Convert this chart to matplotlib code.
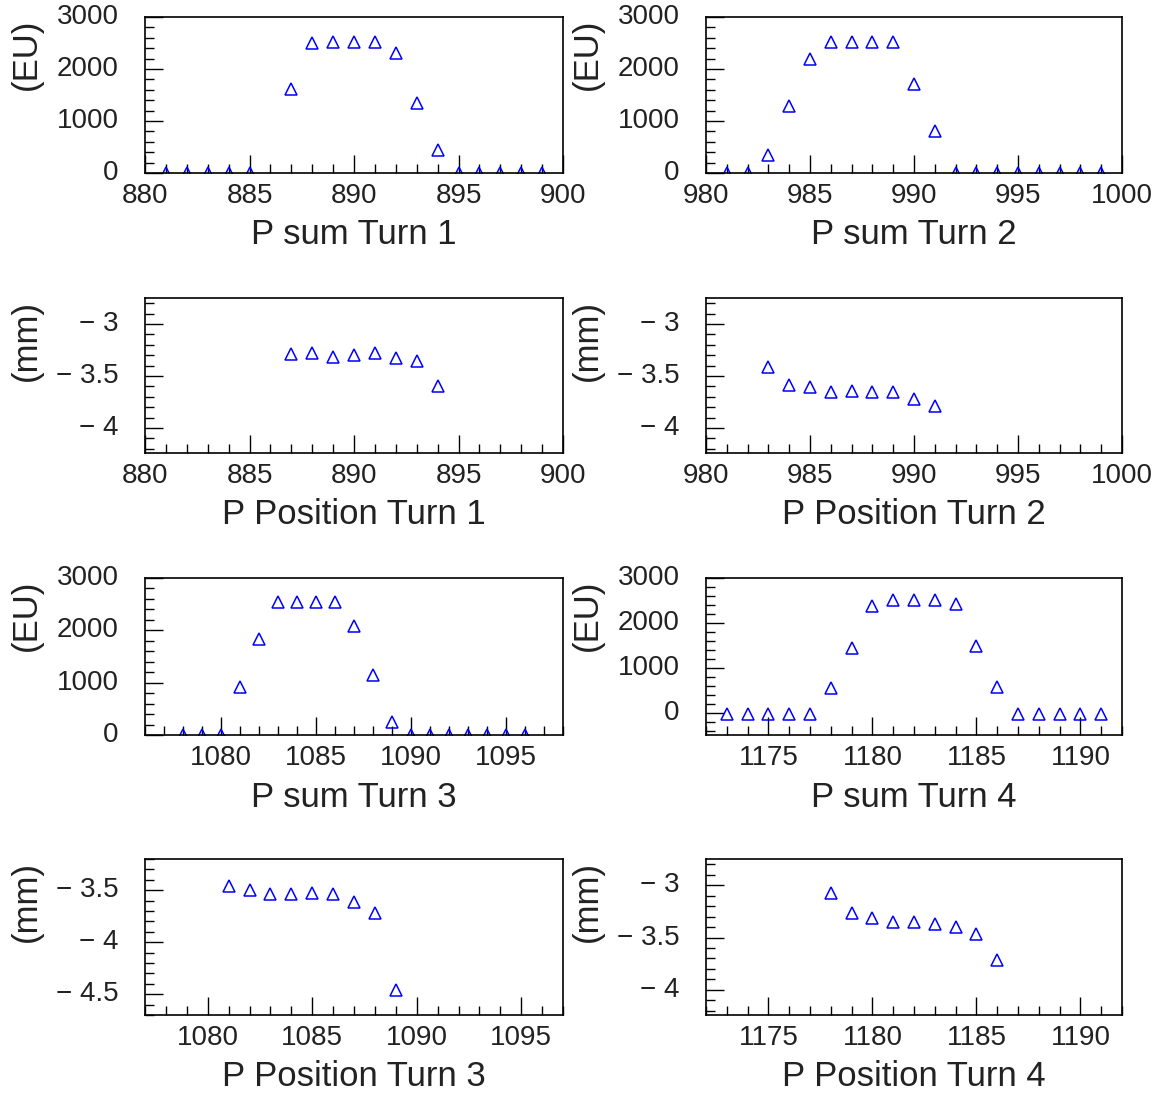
import matplotlib
matplotlib.use("Agg")
import matplotlib.pyplot as plt
from matplotlib.ticker import MultipleLocator, FuncFormatter

plt.rcParams["font.family"] = ["Liberation Sans", "DejaVu Sans"]

# ---- data ----
sum1_x = [881, 882, 883, 884, 885, 887, 888, 889, 890, 891, 892, 893, 894,
          895, 896, 897, 898, 899]
sum1_y = [0, 0, 0, 0, 0, 1625, 2505, 2525, 2525, 2525, 2300, 1355, 445,
          0, 0, 0, 0, 0]

sum2_x = [981, 982, 983, 984, 985, 986, 987, 988, 989, 990, 991, 992, 993,
          994, 995, 996, 997, 998, 999]
sum2_y = [0, 0, 350, 1280, 2185, 2525, 2525, 2525, 2510, 1710, 800, 0, 0,
          0, 0, 0, 0, 0, 0]

pos1_x = [887, 888, 889, 890, 891, 892, 893, 894]
pos1_y = [-3.29, -3.28, -3.32, -3.30, -3.28, -3.33, -3.36, -3.60]

pos2_x = [983, 984, 985, 986, 987, 988, 989, 990, 991]
pos2_y = [-3.41, -3.59, -3.605, -3.65, -3.64, -3.65, -3.65, -3.72, -3.79]

sum3_x = [1078, 1079, 1080, 1081, 1082, 1083, 1084, 1085, 1086, 1087, 1088,
          1089, 1090, 1091, 1092, 1093, 1094, 1095, 1096]
sum3_y = [0, 0, 0, 925, 1840, 2550, 2545, 2545, 2545, 2075, 1150, 240,
          0, 0, 0, 0, 0, 0, 0]

sum4_x = [1173, 1174, 1175, 1176, 1177, 1178, 1179, 1180, 1181, 1182, 1183,
          1184, 1185, 1186, 1187, 1188, 1189, 1190, 1191]
sum4_y = [-20, -20, -20, -20, -20, 550, 1450, 2370, 2520, 2520, 2520, 2415,
          1485, 570, -20, -20, -20, -20, -20]

pos3_x = [1081, 1082, 1083, 1084, 1085, 1086, 1087, 1088, 1089]
pos3_y = [-3.455, -3.50, -3.54, -3.54, -3.525, -3.535, -3.615, -3.72, -4.46]

pos4_x = [1178, 1179, 1180, 1181, 1182, 1183, 1184, 1185, 1186]
pos4_y = [-3.075, -3.265, -3.315, -3.355, -3.355, -3.37, -3.40, -3.47, -3.71]

titles = ["P sum Turn 1", "P sum Turn 2", "P Position Turn 1", "P Position Turn 2",
          "P sum Turn 3", "P sum Turn 4", "P Position Turn 3", "P Position Turn 4"]

# panel specs: data, x range, y range, y label, y major / minor step
panels = [
    (sum1_x, sum1_y, (880, 900), (0, 3000), "(EU)", 1000, 200),
    (sum2_x, sum2_y, (980, 1000), (0, 3000), "(EU)", 1000, 200),
    (pos1_x, pos1_y, (880, 900), (-4.24, -2.75), "(mm)", 0.5, 0.1),
    (pos2_x, pos2_y, (980, 1000), (-4.24, -2.75), "(mm)", 0.5, 0.1),
    (sum3_x, sum3_y, (1076, 1098), (0, 3000), "(EU)", 1000, 200),
    (sum4_x, sum4_y, (1172, 1192), (-490, 3000), "(EU)", 1000, 200),
    (pos3_x, pos3_y, (1077, 1097), (-4.70, -3.20), "(mm)", 0.5, 0.1),
    (pos4_x, pos4_y, (1172, 1192), (-4.24, -2.75), "(mm)", 0.5, 0.1),
]

W, H = 1164, 1097
fig = plt.figure(figsize=(W / 100, H / 100), dpi=100)

col_x = [(145, 563), (706, 1122)]
row_y = [(17, 173), (298, 453), (578, 735), (859, 1015)]
text_color = "#222222"


def short_num(v, pos):
    s = f"{v:g}"
    return s.replace("-", "\u2212 ")


for i, (xs, ys, xlim, ylim, ylab, ymaj, ymin) in enumerate(panels):
    r, c = divmod(i, 2)
    x0, x1 = col_x[c]
    y0, y1 = row_y[r]
    ax = fig.add_axes([x0 / W, 1 - y1 / H, (x1 - x0) / W, (y1 - y0) / H])

    ax.plot(xs, ys, linestyle="none", marker="^", markersize=9,
            markerfacecolor="none", markeredgecolor="#0000ff", markeredgewidth=1.1)

    ax.set_xlim(*xlim)
    ax.set_ylim(*ylim)
    ax.xaxis.set_major_locator(MultipleLocator(5))
    ax.xaxis.set_minor_locator(MultipleLocator(1))
    ax.yaxis.set_major_locator(MultipleLocator(ymaj))
    ax.yaxis.set_minor_locator(MultipleLocator(ymin))
    ax.yaxis.set_major_formatter(FuncFormatter(short_num))

    ax.tick_params(which="both", direction="in", top=False, right=False,
                   colors="black", labelcolor=text_color, labelsize=20)
    ax.tick_params(axis="x", which="major", length=13, width=1, pad=7)
    ax.tick_params(axis="x", which="minor", length=6.5, width=1)
    ax.tick_params(axis="y", which="major", length=13, width=1, pad=19)
    ax.tick_params(axis="y", which="minor", length=6.5, width=1)
    for lbl in ax.get_yticklabels():
        lbl.set_verticalalignment("center")

    for sp in ax.spines.values():
        sp.set_linewidth(1.2)

    ax.set_xlabel(titles[i], fontsize=25, color=text_color)
    ax.xaxis.set_label_coords(0.5, -0.29)
    ax.set_ylabel(ylab, fontsize=25, color=text_color, loc="top")
    ax.yaxis.set_label_coords(-0.245, 0.99)

fig.savefig("out.png", dpi=100)
